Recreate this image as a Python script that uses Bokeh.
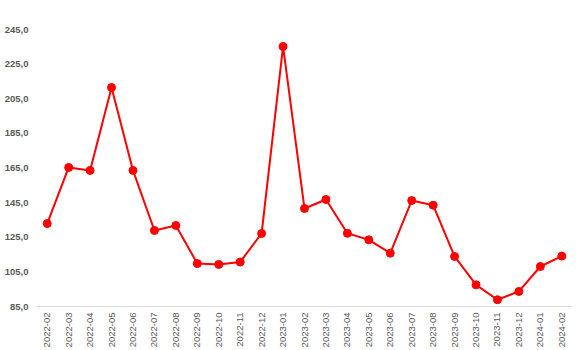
from bokeh.plotting import figure
from bokeh.models import ColumnDataSource, Range1d, FixedTicker
from bokeh.embed import file_html
from bokeh.resources import INLINE
import math

months = ["2022-02", "2022-03", "2022-04", "2022-05", "2022-06", "2022-07", "2022-08",
          "2022-09", "2022-10", "2022-11", "2022-12", "2023-01", "2023-02", "2023-03",
          "2023-04", "2023-05", "2023-06", "2023-07", "2023-08", "2023-09", "2023-10",
          "2023-11", "2023-12", "2024-01", "2024-02"]
values = [132.9, 165.3, 163.6, 211.5, 163.6, 128.9, 131.8, 109.8, 109.3, 110.7, 127.2,
          235.2, 141.6, 146.8, 127.3, 123.5, 115.8, 146.2, 143.5, 113.9, 97.5, 88.9,
          93.7, 108.1, 114.1]
y_ticks = [85, 105, 125, 145, 165, 185, 205, 225, 245]
y_tick_labels = ["85,0", "105,0", "125,0", "145,0", "165,0", "185,0", "205,0", "225,0", "245,0"]

src = ColumnDataSource(dict(x=months, y=values))

p = figure(frame_width=536, frame_height=277, x_range=months, y_range=Range1d(85, 245),
           output_backend="svg", toolbar_location=None,
           min_border_left=36, min_border_right=8, min_border_top=29, min_border_bottom=44)
p.outline_line_color = None
p.xgrid.grid_line_color = None
p.ygrid.grid_line_color = None

p.line("x", "y", source=src, line_color="#ff0000", line_width=2)
p.scatter("x", "y", source=src, size=8, fill_color="#ff0000", line_color="#ff0000")

p.yaxis.ticker = FixedTicker(ticks=y_ticks)
p.yaxis.major_label_overrides = {t: l for t, l in zip(y_ticks, y_tick_labels)}
p.yaxis.axis_line_color = None
p.yaxis.major_tick_line_color = None
p.yaxis.minor_tick_line_color = None
p.yaxis.major_tick_in = 0
p.yaxis.major_tick_out = 0
p.yaxis.minor_tick_in = 0
p.yaxis.minor_tick_out = 0
p.yaxis.major_label_text_font = "Liberation Sans"
p.yaxis.major_label_text_font_size = "9.5px"
p.yaxis.major_label_text_font_style = "bold"
p.yaxis.major_label_text_color = "#595959"
p.yaxis.major_label_standoff = 8

p.xaxis.axis_line_color = "#d9d9d9"
p.xaxis.axis_line_width = 1
p.xaxis.major_tick_line_color = None
p.xaxis.minor_tick_line_color = None
p.xaxis.major_tick_in = 0
p.xaxis.major_tick_out = 0
p.xaxis.minor_tick_in = 0
p.xaxis.minor_tick_out = 0
p.xaxis.major_label_orientation = math.pi / 2
p.xaxis.major_label_text_font = "Liberation Sans"
p.xaxis.major_label_text_font_size = "9.5px"
p.xaxis.major_label_text_color = "#595959"
p.xaxis.major_label_standoff = 6

open("out.html", "w").write(file_html(p, INLINE))
